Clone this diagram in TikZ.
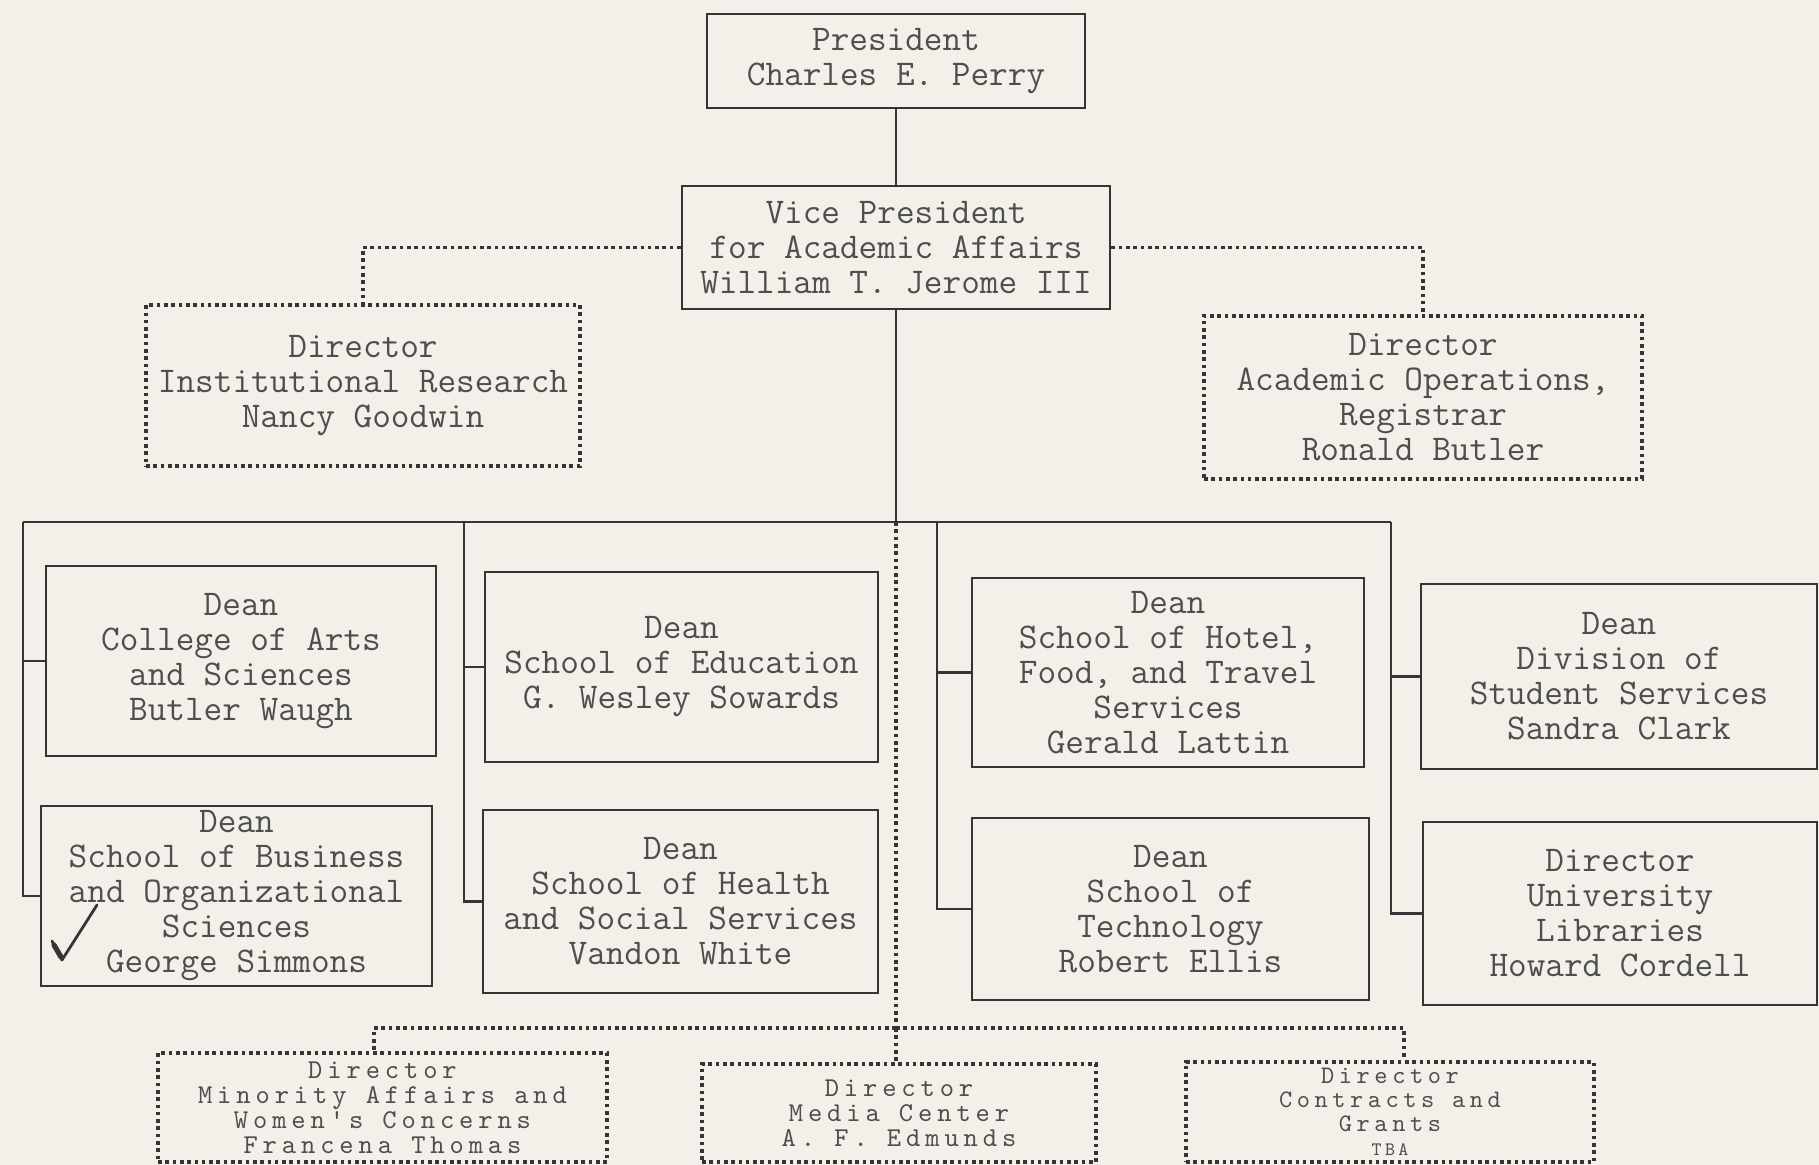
\documentclass[tikz,border=0pt]{standalone}
\usepackage{fontspec}
\newfontfamily\twsp[LetterSpace=18.0]{lmmono10-regular.otf}
\definecolor{paper}{HTML}{F2F0E8}
\definecolor{ink}{HTML}{353535}
\definecolor{txt}{HTML}{4E4E4E}
\tikzset{
  box/.style={draw=ink, line width=1.4pt, rectangle, align=center, inner sep=0pt,
    text=txt, font=\ttfamily\fontsize{18.1}{17.5}\selectfont},
  dotl/.style={draw=ink, line width=1.9pt, dash pattern=on 1.8pt off 1.85pt},
  dbox/.style={box, dotl},
  sbox/.style={dbox, font=\twsp\fontsize{13.6}{12.5}\selectfont},
  conn/.style={draw=ink, line width=1.1pt},
}
\begin{document}
\begin{tikzpicture}[x=0.5pt, y=-0.5pt]
\fill[paper] (0,0) rectangle (1819,1165);
\useasboundingbox (0,0) rectangle (1819,1165);

% top
\node[box, minimum width=189pt, minimum height=47pt] (pres) at (896,61) {President\\Charles E. Perry};
\node[box, minimum width=214pt, minimum height=61.5pt] (vp) at (896,247.5) {Vice President\\for Academic Affairs\\William T. Jerome III};
\node[dbox, minimum width=217pt, minimum height=80.5pt] (ir) at (363,385.5) {Director\\Institutional Research\\Nancy Goodwin};
\node[dbox, minimum width=219pt, minimum height=81.5pt] (ao) at (1423,397.5) {Director\\Academic Operations,\\Registrar\\Ronald Butler};

% deans
\node[box, minimum width=195pt, minimum height=95pt] (A) at (241,661) {Dean\\College of Arts\\and Sciences\\Butler Waugh};
\node[box, minimum width=195.5pt, minimum height=90pt] (B) at (236.5,896) {Dean\\School of Business\\and Organizational\\Sciences\\George Simmons};
\node[box, minimum width=196.5pt, minimum height=95pt] (C) at (681.5,667) {Dean\\School of Education\\G. Wesley Sowards};
\node[box, minimum width=197.5pt, minimum height=91.5pt] (D) at (680.5,901.5) {Dean\\School of Health\\and Social Services\\Vandon White};
\node[box, minimum width=196pt, minimum height=94.5pt] (E) at (1168,672.5) {Dean\\School of Hotel,\\Food, and Travel\\Services\\Gerald Lattin};
\node[box, minimum width=198.5pt, minimum height=91pt] (F) at (1170.5,909) {Dean\\School of\\Technology\\Robert Ellis};
\node[box, minimum width=198pt, minimum height=92.5pt] (G) at (1619,676.5) {Dean\\Division of\\Student Services\\Sandra Clark};
\node[box, minimum width=197pt, minimum height=91.5pt] (H) at (1620,913.5) {Director\\University\\Libraries\\Howard Cordell};

% bottom directors
\node[sbox, minimum width=224.5pt, minimum height=54.5pt] (mi) at (382.5,1107.5) {Director\\Minority Affairs and\\Women's Concerns\\Francena Thomas};
\node[sbox, minimum width=197pt, minimum height=49pt] (me) at (899,1113) {Director\\Media Center\\A. F. Edmunds};
\node[sbox, minimum width=204pt, minimum height=50pt, font=\twsp\fontsize{12.6}{12}\selectfont] (co) at (1390,1112) {Director\\Contracts and\\Grants\\{\fontsize{9.5}{10}\selectfont TBA}};

% solid connectors
\coordinate (hub) at (896,522);
\coordinate (c1) at (23,522);
\coordinate (c2) at (464,522);
\coordinate (c3) at (937,522);
\coordinate (c4) at (1391,522);
\draw[conn] (pres.south) -- (vp.north);
\draw[conn] (vp.south) -- (hub);
\draw[conn] (c1) -- (c4);
\draw[conn] (c1) |- (B.west);
\draw[conn] (c1 |- A.west) -- (A.west);
\draw[conn] (c2) |- (D.west);
\draw[conn] (c2 |- C.west) -- (C.west);
\draw[conn] (c3) |- (F.west);
\draw[conn] (c3 |- E.west) -- (E.west);
\draw[conn] (c4) |- (H.west);
\draw[conn] (c4 |- G.west) -- (G.west);

% dotted connectors
\draw[dotl] (vp.west) -| (ir.north);
\draw[dotl] (vp.east) -| (ao.north);
\coordinate (dj) at (896,1028);
\draw[dotl] (hub) -- (dj);
\draw[dotl] (dj) -| ([xshift=-4.25pt]mi.north);
\draw[dotl] (dj) -| ([xshift=7pt]co.north);
\draw[dotl] (dj) -- (dj |- me.north);

% handwritten check mark
\draw[ink, line width=1.4pt, line cap=round, line join=round] (52,941) -- (62,960) -- (97,905);
\draw[ink, line width=2.6pt, line cap=round] (54,945) -- (61,957);
\end{tikzpicture}
\end{document}
